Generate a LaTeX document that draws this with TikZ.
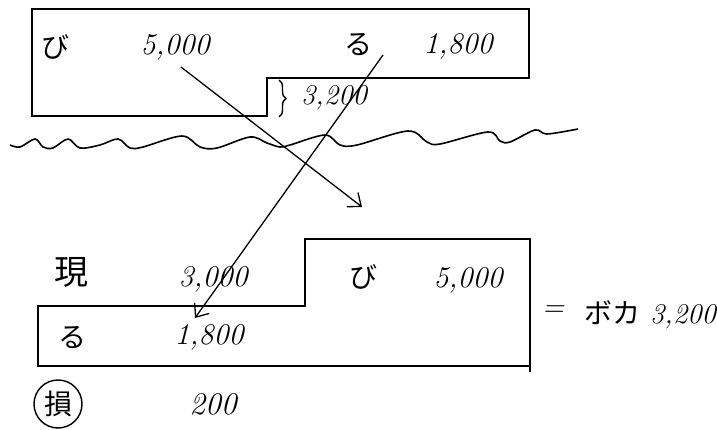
\documentclass[tikz,border=0pt]{standalone}
\usepackage{fontspec}
\newfontfamily\jpfont{Noto Sans CJK JP}
\usetikzlibrary{arrows.meta, positioning, decorations.pathreplacing}

\begin{document}
\begin{tikzpicture}[x=1pt, y=-1pt,
  kana/.style={font=\jpfont\fontsize{28}{30}\selectfont, inner sep=0pt},
  bigkana/.style={font=\jpfont\fontsize{34}{36}\selectfont, inner sep=0pt},
  num/.style={font=\itshape\fontsize{30}{32}\selectfont, inner sep=0pt},
  outline/.style={line width=1.8pt, line join=miter},
  arr/.style={-{Straight Barb[length=11pt, width=18pt]}, line width=1.3pt},
]
  \useasboundingbox (0,0) rectangle (717,430);

  % Upper account (before)
  \draw[outline] (32,9) -- (529,9) -- (529,78) -- (267,78) -- (267,116) -- (32,116) -- cycle;
  \node[kana] (upbi) at (55,47) {び};
  \node[num] (upbival) at (175,47) {5,000};
  \node[kana] (upru) at (358,45) {る};
  \node[num] (upruval) at (458,46) {1,800};
  \draw[line width=1.4pt, decorate, decoration={brace, amplitude=7pt}] (279,80) -- (279,117);
  \node[num, scale=0.95] (gapval) at (334,98) {3,200};

  % Wavy divider
  \draw[line width=1.6pt] plot[smooth, tension=0.55] coordinates {
    (10,145) (20,147) (35,139) (43,147) (53,148) (68,139) (80,148) (100,145)
    (118,139) (130,148) (143,147) (182,136) (200,147) (217,148) (250,137)
    (267,143) (280,147) (290,145) (325,135) (340,145) (357,145) (408,131)
    (427,142) (440,144) (488,132) (500,141) (510,142) (535,130) (547,134) (578,129)};

  % Lower account (after)
  \draw[outline] (530,372) -- (530,239) -- (305,239) -- (305,306) -- (38,306) -- (38,366) -- (530,366);
  \node[bigkana] (genkin) at (71,272) {現};
  \node[num] (genkinval) at (213,279) {3,000};
  \node[kana] (lowbi) at (363,277) {び};
  \node[num] (lowbival) at (468,280) {5,000};
  \node[kana] (lowru) at (72,338) {る};
  \node[num] (lowruval) at (209,337) {1,800};

  % Book value
  \node[num] (eq) at (553,311) {=};
  \node[kana] (boka) at (612,313) {ボカ};
  \node[num, scale=0.95] (bokaval) at (683,317) {3,200};

  % Loss
  \node[kana, draw, circle, line width=1.4pt, minimum size=48pt] (son) at (58,404) {損};
  \node[num, scale=1.05] (sonval) at (213,404) {200};

  % Transfers
  \coordinate (bistart) at (181,67);
  \coordinate (biend) at (362,207);
  \coordinate (rustart) at (383,55);
  \coordinate (ruend) at (195,318);
  \draw[arr] (bistart) -- (biend);
  \draw[arr] (rustart) -- (ruend);
\end{tikzpicture}
\end{document}
